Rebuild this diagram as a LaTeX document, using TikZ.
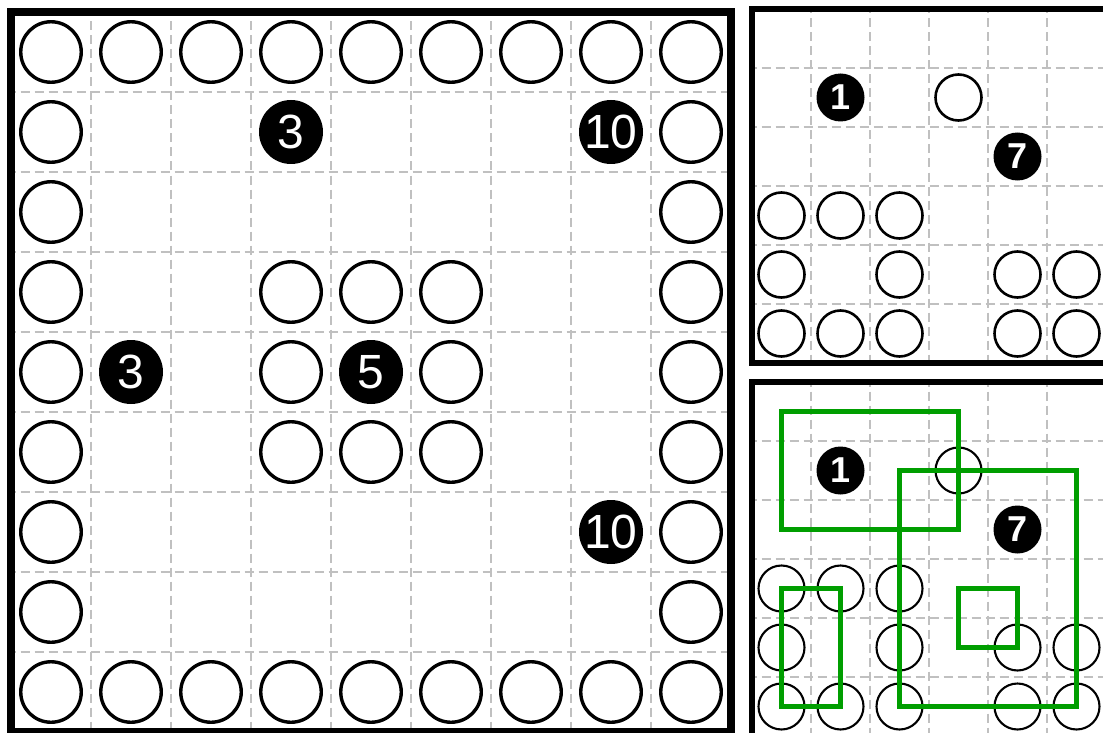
\documentclass[tikz,border=0pt]{standalone}
\usepackage{fontspec}
\setmainfont{Liberation Sans}
\definecolor{gridgray}{RGB}{192,192,192}
\definecolor{boxgreen}{RGB}{0,158,0}
\begin{document}
\begin{tikzpicture}[x=1pt,y=-1pt,
  gridline/.style={draw=gridgray,line width=1.4pt,dash pattern=on 9pt off 5pt,dash phase=4.5pt},
  bigwhite/.style={circle,draw=black,fill=white,line width=3.4pt,minimum size=60.5pt,inner sep=0pt},
  bigblack/.style={circle,fill=black,minimum size=64pt,inner sep=0pt,text=white,font=\fontsize{48}{48}\selectfont},
  smallwhite/.style={circle,draw=black,fill=white,minimum size=46pt,inner sep=0pt},
  smallblack/.style={circle,fill=black,minimum size=48pt,inner sep=0pt,text=white,font=\bfseries\fontsize{36}{36}\selectfont},
  bigframe/.style={draw=black,line width=8pt},
  smallframe/.style={draw=black,line width=5.5pt},
  greenbox/.style={draw=boxgreen,line width=5.5pt}
]
\useasboundingbox (0,0) rectangle (1103,733);
\clip (0,0) rectangle (1103,733);
\fill[white] (0,0) rectangle (1103,733);

% ---------- main board ----------
\foreach \i in {1,...,8} {
  \draw[gridline] ({11+80*\i},12) -- ({11+80*\i},732);
  \draw[gridline] (11,{12+80*\i}) -- (731,{12+80*\i});
}
\foreach \c in {0,...,8} {
  \node[bigwhite] (mt\c) at ({51+80*\c},52) {};
  \node[bigwhite] (mb\c) at ({51+80*\c},692) {};
}
\foreach \r in {1,...,7} {
  \node[bigwhite] (ml\r) at (51,{52+80*\r}) {};
  \node[bigwhite] (mr\r) at (691,{52+80*\r}) {};
}
\foreach \r/\c in {3/3,3/4,3/5,4/3,4/5,5/3,5/4,5/5} {
  \node[bigwhite] (m\r\c) at ({51+80*\c},{52+80*\r}) {};
}
\foreach \r/\c/\t in {1/3/3,1/7/10,4/1/3,4/4/5,6/7/10} {
  \node[bigblack] (n\r\c) at ({51+80*\c},{52+80*\r}) {\t};
}
\draw[bigframe] (11,12) rectangle (731,732);

% ---------- right panels ----------
\foreach \p/\y/\lw in {t/9/2.6,b/382/2.1} {
  \foreach \i in {1,...,5} {
    \draw[gridline] ({752+59*\i},\y) -- ({752+59*\i},{\y+354});
    \draw[gridline] (752,{\y+59*\i}) -- (1106,{\y+59*\i});
  }
  \foreach \r in {0,...,5} {
    \foreach \c in {0,...,5} {
      \coordinate (\p c\r\c) at ({781.5+59*\c},{\y+29.5+59*\r});
    }
  }
  \foreach \r/\c in {1/3,3/0,3/1,3/2,4/0,4/2,4/4,4/5,5/0,5/1,5/2,5/4,5/5} {
    \node[smallwhite,line width=\lw pt] (\p w\r\c) at (\p c\r\c) {};
  }
  \node[smallblack] (\p n11) at (\p c11) {1};
  \node[smallblack] (\p n24) at (\p c24) {7};
  \draw[smallframe] (752,\y) rectangle (1106,{\y+354});
}

% ---------- green boxes ----------
\draw[greenbox] (bc00) rectangle (bc23);
\draw[greenbox] (bc12) rectangle (bc55);
\draw[greenbox] (bc33) rectangle (bc44);
\draw[greenbox] (bc30) rectangle (bc51);
\end{tikzpicture}
\end{document}
